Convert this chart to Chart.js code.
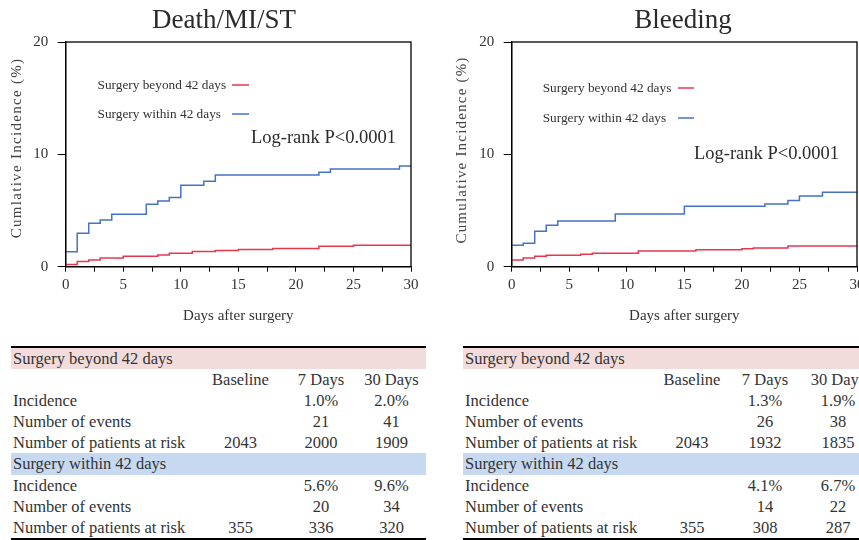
<!DOCTYPE html>
<html>
<head>
<meta charset="utf-8">
<script src="https://cdn.jsdelivr.net/npm/chart.js@4.4.1/dist/chart.umd.min.js"></script>
<style>
  body { margin: 0; width: 859px; height: 540px; overflow: hidden; position: relative; background: #fff; }
  .panel { position: absolute; top: 0; width: 430px; height: 340px; }
  table.km {
    position: absolute; top: 346px; width: 415px;
    border-collapse: collapse; table-layout: fixed;
    font: 16.5px "Liberation Serif", "Times New Roman", serif; color: #333;
    border-top: 2px solid #000; border-bottom: 2px solid #000;
  }
  table.km td { padding: 0; height: 21.1px; line-height: 21.1px; white-space: nowrap; text-align: center; }
  table.km td.lbl { text-align: left; padding-left: 2px; }
  table.km tr.beyond td { background: #f2dcdb; }
  table.km tr.within td { background: #c6d9f0; }
</style>
</head>
<body>
<div class="panel" style="left:0"><canvas id="c1" width="430" height="340"></canvas></div>
<div class="panel" style="left:446px"><canvas id="c2" width="430" height="340"></canvas></div>
<table class="km" id="t1" style="left:11px"></table>
<table class="km" id="t2" style="left:463px"></table>
<script>
// series labels
const groups = ['Surgery beyond 42 days', 'Surgery within 42 days'];

// Death/MI/ST - cumulative incidence (%) at each step
const dmBeyondDays = [0, 1, 2, 3, 5, 8, 9, 11, 13, 15, 18, 22, 25, 30];
const dmBeyondInc  = [0.2, 0.47, 0.6, 0.77, 0.92, 1.04, 1.19, 1.36, 1.45, 1.54, 1.63, 1.81, 1.9, 1.9];
const dmWithinDays = [0, 1, 2, 3, 4, 7, 8, 9, 10, 12, 13, 22, 23, 29, 30];
const dmWithinInc  = [1.34, 2.97, 3.86, 4.15, 4.66, 5.55, 5.85, 6.17, 7.24, 7.6, 8.16, 8.4, 8.7, 8.96, 8.96];

// Bleeding
const blBeyondDays = [0, 1, 2, 3, 6, 7, 11, 16, 20, 21, 24, 30];
const blBeyondInc  = [0.59, 0.77, 0.92, 1.01, 1.1, 1.19, 1.39, 1.51, 1.6, 1.66, 1.84, 1.84];
const blWithinDays = [0, 1, 2, 3, 4, 9, 15, 22, 24, 25, 27, 30];
const blWithinInc  = [1.9, 2.08, 3.15, 3.68, 4.07, 4.69, 5.37, 5.58, 5.9, 6.29, 6.62, 6.62];

const xTicks = [0, 5, 10, 15, 20, 25, 30];
const yTicks = [0, 10, 20];

// tables
const tableCols = ['Baseline', '7 Days', '30 Days'];
const rowLabels = ['Incidence', 'Number of events', 'Number of patients at risk'];
const dmBeyondRows = [['', '1.0%', '2.0%'], ['', '21', '41'], ['2043', '2000', '1909']];
const dmWithinRows = [['', '5.6%', '9.6%'], ['', '20', '34'], ['355', '336', '320']];
const blBeyondRows = [['', '1.3%', '1.9%'], ['', '26', '38'], ['2043', '1932', '1835']];
const blWithinRows = [['', '4.1%', '6.7%'], ['', '14', '22'], ['355', '308', '287']];

const SERIF = '"Liberation Serif", "Times New Roman", serif';
const RED = '#e8374d';
const BLUE = '#4472c4';
const TXT = '#333';

const pts = (days, inc) => days.map((d, i) => ({ x: d, y: inc[i] }));

// titles, y title, legend and log-rank note drawn on the canvas
const panelText = {
  id: 'panelText',
  afterDraw(chart, args, o) {
    const ctx = chart.ctx;
    const { left, top, right, bottom } = chart.chartArea;
    ctx.save();
    // closed frame
    ctx.strokeStyle = '#000';
    ctx.lineWidth = 1.3;
    ctx.strokeRect(left, top, right - left, bottom - top);

    ctx.fillStyle = '#2b2b2b';
    ctx.font = '27px ' + SERIF;
    ctx.textAlign = 'center';
    ctx.textBaseline = 'alphabetic';
    ctx.fillText(o.title, o.titleX, 27.5);

    ctx.save();
    ctx.translate(o.yTitleX, o.yTitleY);
    ctx.rotate(-Math.PI / 2);
    ctx.letterSpacing = o.spacing;
    ctx.fillStyle = '#444';
    ctx.font = '15px ' + SERIF;
    ctx.textBaseline = 'middle';
    ctx.fillText(o.yTitle, 0, 0);
    ctx.restore();

    ctx.font = '13.3px ' + SERIF;
    ctx.textAlign = 'left';
    ctx.textBaseline = 'middle';
    ctx.fillStyle = TXT;
    chart.data.datasets.forEach((ds, i) => {
      const y = o.legendY[i];
      ctx.fillText(ds.label, o.legendX, y + 0.5);
      ctx.strokeStyle = ds.borderColor;
      ctx.lineWidth = 1.5;
      ctx.beginPath();
      ctx.moveTo(o.lineX[0], y);
      ctx.lineTo(o.lineX[1], y);
      ctx.stroke();
    });

    ctx.font = '18.5px ' + SERIF;
    ctx.textBaseline = 'alphabetic';
    ctx.fillStyle = '#2b2b2b';
    ctx.fillText('Log-rank P<0.0001', o.logX, o.logY);
    ctx.restore();
  }
};

function makeChart(id, beyond, within, text) {
  return new Chart(document.getElementById(id), {
    type: 'line',
    data: {
      datasets: [
        { label: groups[0], data: beyond, borderColor: RED },
        { label: groups[1], data: within, borderColor: BLUE }
      ].map(d => Object.assign(d, { stepped: 'before', borderWidth: 1.5, pointRadius: 0, fill: false }))
    },
    options: {
      responsive: false,
      animation: false,
      layout: { padding: { top: 42, left: 0, right: 19, bottom: 0 } },
      plugins: { legend: { display: false }, tooltip: { enabled: false }, panelText: text },
      scales: {
        x: {
          type: 'linear', min: 0, max: 30,
          border: { color: '#000', width: 1.3 },
          grid: { drawOnChartArea: false, color: '#000', tickLength: 5 },
          ticks: {
            stepSize: 2.5, autoSkip: false, maxRotation: 0, padding: 4, color: TXT,
            font: { family: SERIF, size: 15 },
            callback: v => xTicks.includes(v) ? v : ''
          },
          title: { display: true, text: 'Days after surgery', color: TXT, font: { family: SERIF, size: 15 }, padding: { top: 0, bottom: 15 } },
          afterFit: s => { s.height = 73.3; }
        },
        y: {
          min: 0, max: 20,
          border: { color: '#000', width: 1.3 },
          grid: { drawOnChartArea: false, color: '#000', tickLength: 8 },
          ticks: {
            stepSize: 10, padding: 9.5, color: TXT, font: { family: SERIF, size: 15 },
            callback: v => yTicks.includes(v) ? v : ''
          },
          afterFit: s => { s.width = 65.7; }
        }
      }
    },
    plugins: [panelText]
  });
}

makeChart('c1', pts(dmBeyondDays, dmBeyondInc), pts(dmWithinDays, dmWithinInc), {
  title: 'Death/MI/ST', titleX: 224, yTitle: 'Cumlative Incidence (%)', yTitleX: 17, yTitleY: 148, spacing: '1.3px',
  legendX: 97.5, lineX: [232, 249], legendY: [85, 114], logX: 251, logY: 142.7
});
makeChart('c2', pts(blBeyondDays, blBeyondInc), pts(blWithinDays, blWithinInc), {
  title: 'Bleeding', titleX: 237, yTitle: 'Cumulative Incidence (%)', yTitleX: 16, yTitleY: 150, spacing: '1.2px',
  legendX: 96.7, lineX: [232, 248], legendY: [88, 118], logX: 248, logY: 159.3
});

function buildTable(id, widths, beyondRows, withinRows) {
  const t = document.getElementById(id);
  let html = '<colgroup>' + widths.map(w => `<col style="width:${w}px">`).join('') + '</colgroup>';
  const band = (cls, text) => `<tr class="${cls}"><td class="lbl" colspan="5">${text}</td></tr>`;
  const rows = data => data.map((r, i) =>
    `<tr><td class="lbl">${rowLabels[i]}</td>${r.map(v => `<td>${v}</td>`).join('')}<td></td></tr>`).join('');
  html += band('beyond', groups[0]);
  html += `<tr><td></td>${tableCols.map(c => `<td>${c}</td>`).join('')}<td></td></tr>`;
  html += rows(beyondRows);
  html += band('within', groups[1]);
  html += rows(withinRows);
  t.innerHTML = html;
}
buildTable('t1', [190, 79, 82, 59, 5], dmBeyondRows, dmWithinRows);
buildTable('t2', [190, 78, 68, 78, 1], blBeyondRows, blWithinRows);
</script>
</body>
</html>
